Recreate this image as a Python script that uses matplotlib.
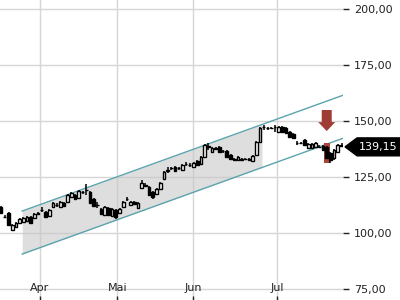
import numpy as np
import matplotlib
matplotlib.use("Agg")
import matplotlib.pyplot as plt
from matplotlib.patches import Polygon, Rectangle, FancyArrow

# daily candles (trading-day index 0..92)
opens = [111.6, 107.3, 108.9, 101.3, 102.7, 104.5, 104.9, 105.4, 107.1, 106.7,
         108.7, 110.1, 109.4, 107.6, 111.6, 112.3, 111.6, 113.4, 113.8, 116.1,
         117.0, 115.6, 118.1, 119.0, 118.3, 115.2, 112.3, 110.7, 108.0, 111.2,
         107.6, 110.3, 108.9, 111.6, 115.0, 112.5, 113.8, 111.2, 120.1, 121.2,
         120.5, 118.3, 117.4, 119.6, 124.1, 127.9, 128.8, 129.5, 128.8, 128.1,
         130.6, 130.2, 129.5, 132.1, 130.8, 133.9, 138.6, 136.2, 137.7, 138.4,
         136.4, 136.6, 134.8, 132.8, 132.6, 132.8, 133.2, 132.8, 132.1, 134.8,
         140.6, 147.1, 146.7, 146.7, 147.1, 145.1, 147.3, 146.9, 145.1, 144.2,
         140.2, 140.0, 141.5, 137.9, 137.9, 138.4, 138.6, 138.8, 138.4, 135.7,
         133.5, 136.2, 139.0]
highs = [111.9, 108.0, 109.4, 104.0, 104.9, 106.7, 107.1, 107.6, 107.6, 108.9,
         109.6, 111.6, 109.8, 110.7, 113.8, 113.4, 114.3, 113.8, 117.4, 118.3,
         117.4, 119.2, 118.8, 121.9, 118.8, 115.6, 113.8, 111.2, 112.1, 111.6,
         111.2, 110.7, 111.2, 114.3, 116.1, 114.3, 114.3, 113.8, 123.7, 122.3,
         121.0, 118.8, 120.1, 122.8, 127.7, 129.5, 129.5, 130.0, 129.5, 130.8,
         131.7, 131.3, 131.7, 132.6, 134.4, 139.7, 140.2, 138.4, 138.4, 138.8,
         137.1, 137.1, 135.3, 133.5, 134.4, 133.5, 133.5, 133.5, 134.8, 141.1,
         147.3, 148.2, 147.3, 147.3, 148.2, 147.8, 147.8, 147.3, 145.5, 144.6,
         141.1, 140.6, 141.9, 140.2, 140.2, 140.6, 139.3, 139.3, 138.8, 136.2,
         137.5, 139.7, 140.2]
lows = [108.5, 106.5, 103.1, 100.9, 102.2, 104.0, 104.5, 104.9, 104.0, 106.3,
        108.0, 109.4, 106.7, 107.1, 111.2, 111.6, 111.2, 111.6, 113.4, 115.6,
        114.7, 115.2, 117.4, 117.0, 112.9, 111.6, 111.2, 108.0, 107.6, 107.6,
        107.1, 106.3, 108.5, 111.2, 114.3, 112.1, 112.5, 110.7, 119.6, 120.5,
        116.5, 115.2, 117.0, 119.2, 123.7, 126.8, 128.1, 127.2, 128.1, 127.7,
        130.0, 129.5, 129.0, 130.0, 130.4, 133.5, 137.1, 135.7, 137.1, 135.7,
        135.7, 133.5, 132.6, 132.6, 132.1, 132.1, 132.6, 132.6, 131.7, 134.4,
        140.2, 146.0, 146.0, 146.4, 145.1, 144.6, 144.6, 144.2, 142.4, 142.0,
        139.3, 139.7, 138.8, 137.5, 137.5, 137.9, 137.9, 136.6, 133.0, 131.3,
        132.6, 135.7, 138.6]
closes = [108.9, 107.0, 103.6, 103.6, 104.5, 106.3, 106.7, 107.1, 104.5, 108.5,
          108.9, 110.3, 107.1, 110.3, 113.4, 112.5, 113.8, 112.1, 117.0, 117.9,
          115.2, 118.8, 118.3, 119.2, 113.4, 112.1, 112.5, 108.5, 111.6, 108.0,
          110.7, 107.1, 110.7, 113.8, 115.2, 113.8, 112.9, 113.4, 122.3, 121.4,
          117.0, 116.1, 119.6, 122.3, 127.2, 128.1, 129.0, 127.7, 129.0, 130.4,
          130.8, 130.4, 131.3, 130.4, 133.9, 139.3, 138.8, 137.9, 137.9, 136.2,
          136.6, 133.9, 133.0, 133.0, 133.9, 133.0, 133.0, 133.0, 134.4, 140.6,
          146.9, 147.3, 146.9, 146.9, 147.3, 147.3, 145.1, 144.6, 142.9, 142.4,
          140.0, 140.2, 139.3, 139.7, 139.7, 140.2, 138.4, 137.1, 133.5, 132.6,
          137.1, 139.3, 139.15]

month_pos = [10.5, 31.4, 51.9, 74.6]
month_labels = ["Apr", "Mai", "Jun", "Jul"]
y_ticks = [75, 100, 125, 150, 175, 200]

# trend channel
chan_x = [5.7, 92.6]
chan_upper = [109.8, 161.6]
chan_lower = [90.6, 142.4]
shade_end = 70.5

signal_idx = 88
signal_lo, signal_hi = 131.3, 140.2
arrow_top, arrow_tip = 154.9, 145.5

fig = plt.figure(figsize=(4, 3), dpi=100)
ax = fig.add_axes([0, 0, 343 / 400, 1])
ax.set_xlim(-0.3, 92.4)
ax.set_ylim(70.1, 204.0)

grid_c = "#d6d6d6"
for p in month_pos:
    ax.axvline(p, color=grid_c, lw=1, zorder=0)
for t in y_ticks:
    ax.axhline(t, color=grid_c, lw=1, zorder=0)

# shaded channel + lines
xs = np.array([chan_x[0], shade_end])
up = np.interp(xs, chan_x, chan_upper)
lo = np.interp(xs, chan_x, chan_lower)
ax.fill_between(xs, lo, up, color="#c8c8c8", alpha=0.6, lw=0, zorder=1)
ax.plot(chan_x, chan_upper, color="#5ba4ae", lw=1, zorder=2)
ax.plot(chan_x, chan_lower, color="#5ba4ae", lw=1, zorder=2)

# signal marker
red = "#9e3c35"
ax.add_patch(Rectangle((signal_idx - 0.8, signal_lo), 1.6, signal_hi - signal_lo,
                       color="#a8443c", lw=0, zorder=2))
ax.add_patch(FancyArrow(signal_idx, arrow_top, 0, arrow_tip - arrow_top,
                        width=2.7, head_width=4.6, head_length=4.0,
                        length_includes_head=True, color=red, lw=0, zorder=5))

# candles
for i, (o, h, l, c) in enumerate(zip(opens, highs, lows, closes)):
    ax.vlines(i, l, h, color="black", lw=1.1, zorder=3)
    bottom = min(o, c)
    height = max(abs(c - o), 0.1)
    face = "white" if c >= o else "black"
    ax.bar(i, height, bottom=bottom, width=0.72, facecolor=face,
           edgecolor="black", lw=1.0, zorder=4)

for s in ax.spines.values():
    s.set_visible(False)

ax.yaxis.tick_right()
ax.set_yticks(y_ticks)
ax.set_yticklabels([f"{t:.2f}".replace(".", ",") for t in y_ticks])
ax.tick_params(axis="y", direction="out", length=4, width=1, pad=4,
               labelsize=8, colors="#222222")
ax.set_xticks(month_pos)
ax.set_xticklabels(month_labels)
ax.tick_params(axis="x", direction="in", length=3, width=1, pad=-12,
               labelsize=8, colors="#222222")

# last price tag
last = closes[-1]
yc = last - 0.7
tr = ax.get_yaxis_transform()
tag = Polygon([(1.006, yc), (1.041, yc + 4.0), (1.17, yc + 4.0),
               (1.17, yc - 4.0), (1.041, yc - 4.0)], closed=True,
              transform=tr, color="black", clip_on=False, zorder=6)
ax.add_patch(tag)
ax.text(1.103, yc, f"{last:.2f}".replace(".", ","), transform=tr, color="white",
        fontsize=8, ha="center", va="center", clip_on=False, zorder=7)

fig.savefig("out.png", dpi=100)
